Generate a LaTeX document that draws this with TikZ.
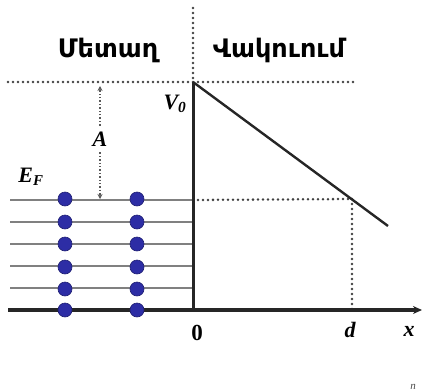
\documentclass[tikz,border=0pt]{standalone}
\usepackage{fontspec}
\setmainfont{Liberation Serif}
\newfontfamily\armfont{DejaVu Sans}
\usetikzlibrary{arrows.meta}
\definecolor{elec}{RGB}{45,45,165}
\begin{document}
\begin{tikzpicture}[x=1pt,y=-1pt,
 dotline/.style={line width=2.8pt, line cap=round, dash pattern=on 0pt off 5pt, draw=black!75},
 level/.style={line width=1.6pt, draw=black!50},
 solidline/.style={line width=3pt, draw=black!85},
 electron/.style={circle, fill=elec, draw=elec!70!black, line width=0.6pt, inner sep=0pt, minimum size=14pt},
 lbl/.style={font=\bfseries\itshape\fontsize{22}{22}\selectfont, inner sep=0pt},
 head/.style={font=\armfont\bfseries\fontsize{25.5}{25.5}\selectfont, inner sep=0pt}]
\useasboundingbox (0,0) rectangle (423,391);
% coordinates
\coordinate (vtop) at (193,8);
\coordinate (top) at (193,82);
\coordinate (base) at (193,310);
\coordinate (ltop) at (8,82);
\coordinate (rtop) at (353,82);
\coordinate (slend) at (388,226);
\coordinate (fermiR) at (193,200);
\coordinate (dpt) at (352,199);
\coordinate (dbase) at (352,310);
\coordinate (axL) at (8,310);
\coordinate (axR) at (422,310);
\coordinate (aTop) at (100,86);
\coordinate (aBot) at (100,199);
% dotted guides
\draw[dotline] (vtop) -- (top);
\draw[dotline] (ltop) -- (rtop);
\draw[dotline] (fermiR) -- (dpt);
\draw[dotline] (dpt) -- (dbase);
% Fermi levels
\foreach \y in {200,222,244,266,288} {
  \coordinate (lv\y) at (10,\y);
  \coordinate (lr\y) at (193,\y);
  \draw[level] (lv\y) -- (lr\y);
}
% barrier
\draw[solidline] (top) -- (base);
\draw[line width=2.4pt, draw=black!85] (top) -- (slend);
% axis
\draw[line width=3.6pt, draw=black!85, -{Stealth[length=9pt,width=8pt]}] (axL) -- (axR);
% work function A
\node[lbl] (A) at (100,139) {A};
\draw[line width=1.4pt, dotted, draw=black!65, -{Stealth[length=5pt,width=5pt]}] (A.north) ++(0,-6) -- (aTop);
\draw[line width=1.4pt, dotted, draw=black!65, -{Stealth[length=5pt,width=5pt]}] (A.south) ++(0,6) -- (aBot);
% electrons
\foreach \y in {199,222,244,267,289,310} {
  \node[electron] (e1\y) at (65,\y) {};
  \node[electron] (e2\y) at (137,\y) {};
}
% labels
\node[head] (metal) at (108,50) {Մետաղ};
\node[head] (vac) at (279,50) {Վակուում};
\node[lbl] (V0) at (175,104) {V\textsubscript{0}};
\node[lbl] (EF) at (31,177) {E\textsubscript{\fontsize{15}{15}\selectfont F}};
\node[font=\bfseries\fontsize{23}{23}\selectfont, inner sep=0pt] (zero) at (197,333) {0};
\node[lbl] (d) at (350,330) {d};
\node[lbl] (x) at (409,331) {x};
\node[font=\itshape\fontsize{11}{11}\selectfont, text=black!70, inner sep=0pt] (n) at (413,387) {n};
\end{tikzpicture}
\end{document}
